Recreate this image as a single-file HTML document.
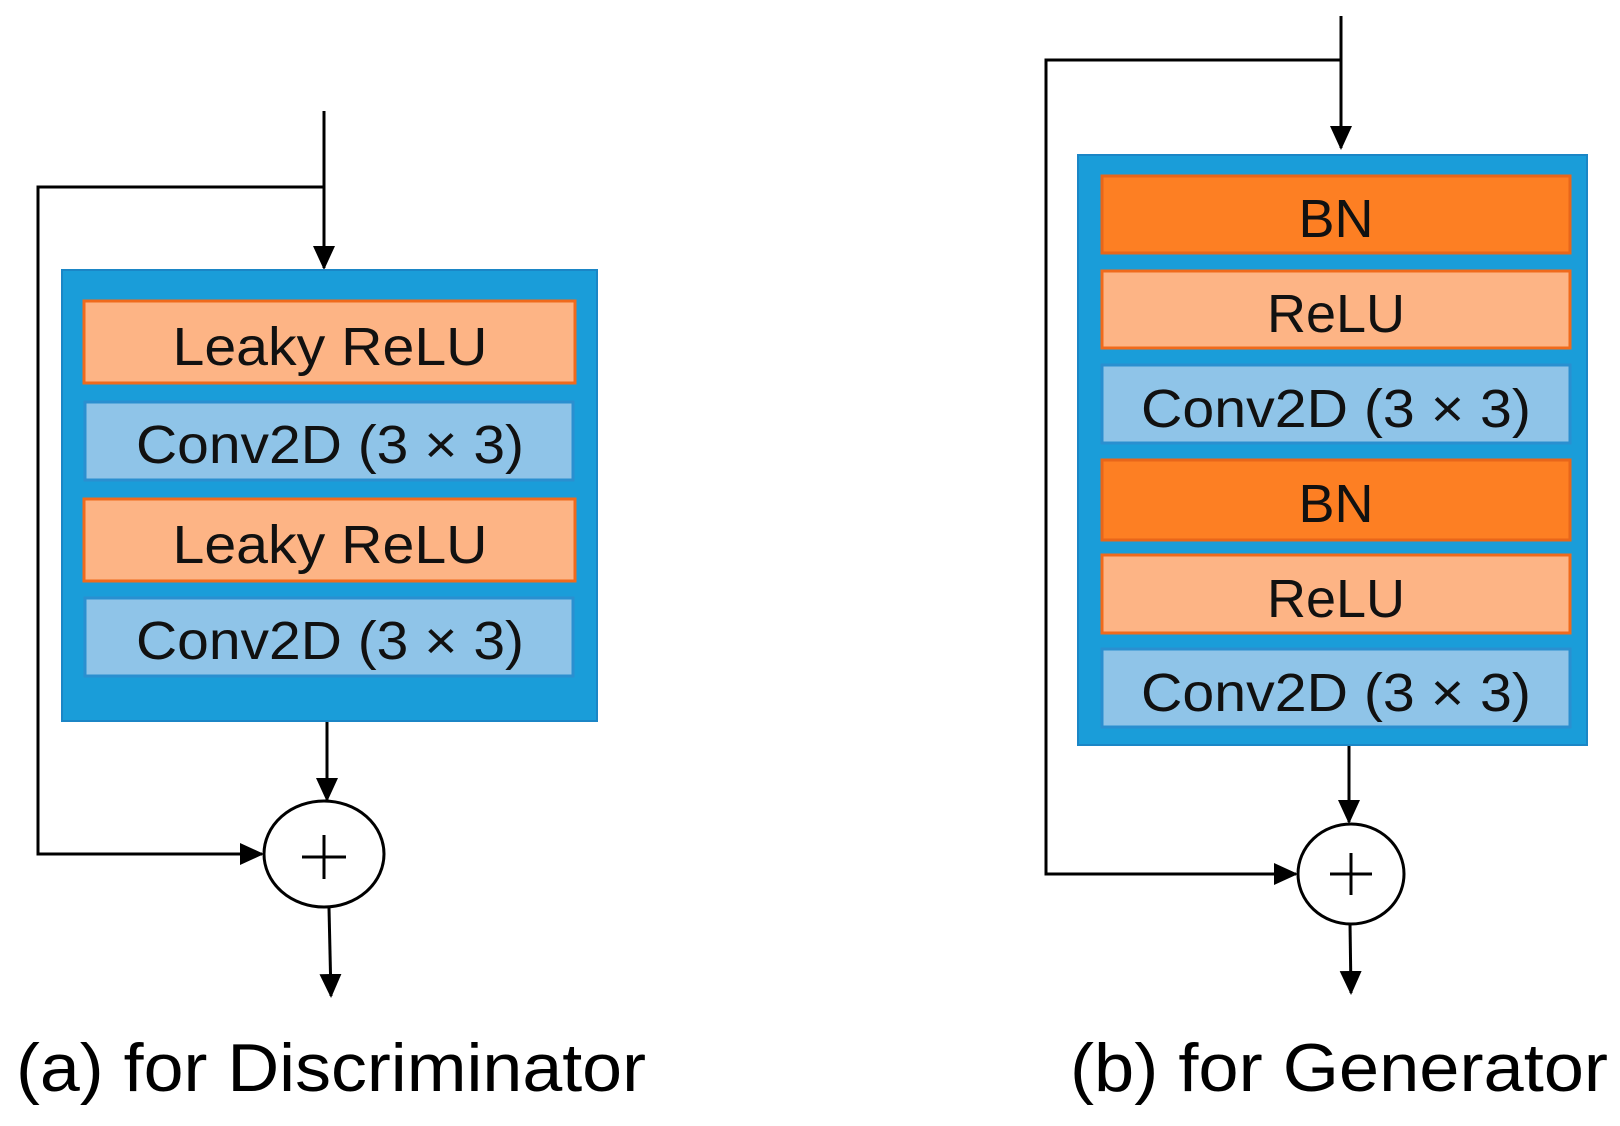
<!DOCTYPE html>
<html><head><meta charset="utf-8"><style>html,body{margin:0;padding:0;background:#fff}svg{display:block}</style></head>
<body>
<svg width="1620" height="1126" viewBox="0 0 1620 1126" xmlns="http://www.w3.org/2000/svg" font-family="Liberation Sans, sans-serif">
<defs>
<marker id="ah" markerWidth="24" markerHeight="22" refX="22" refY="11" orient="auto" markerUnits="userSpaceOnUse" viewBox="0 0 24 22">
<path d="M0,0 L24,11 L0,22 z" fill="#000"/></marker>
</defs>
<g stroke="#000" stroke-width="3" fill="none">
<polyline points="324,111 324,268" marker-end="url(#ah)"/>
<polyline points="324,187 38,187 38,854 262,854" marker-end="url(#ah)"/>
<line x1="327" y1="721" x2="327" y2="800" marker-end="url(#ah)"/>
<line x1="329" y1="908" x2="331" y2="996" marker-end="url(#ah)"/>
<polyline points="1341,16 1341,148" marker-end="url(#ah)"/>
<polyline points="1341,60 1046,60 1046,874 1296,874" marker-end="url(#ah)"/>
<line x1="1349" y1="745" x2="1349" y2="822" marker-end="url(#ah)"/>
<line x1="1350" y1="923" x2="1351" y2="993" marker-end="url(#ah)"/>
</g>
<rect x="62" y="270" width="535" height="451" fill="#1a9dd9" stroke="#1b86c6" stroke-width="2"/>
<g font-size="54" text-anchor="middle" fill="#111">
<rect x="84" y="301" width="491" height="82" fill="#fdb485" stroke="#f06a1c" stroke-width="3"/>
<text x="330" y="365" textLength="315" lengthAdjust="spacingAndGlyphs">Leaky ReLU</text>
<rect x="85" y="402" width="488" height="78" fill="#8fc4e8" stroke="#2a8fd0" stroke-width="3"/>
<text x="330" y="463" textLength="388" lengthAdjust="spacingAndGlyphs">Conv2D (3 × 3)</text>
<rect x="84" y="499" width="491" height="82" fill="#fdb485" stroke="#f06a1c" stroke-width="3"/>
<text x="330" y="563" textLength="315" lengthAdjust="spacingAndGlyphs">Leaky ReLU</text>
<rect x="85" y="598" width="488" height="78" fill="#8fc4e8" stroke="#2a8fd0" stroke-width="3"/>
<text x="330" y="659" textLength="388" lengthAdjust="spacingAndGlyphs">Conv2D (3 × 3)</text>
</g>
<rect x="1078" y="155" width="509" height="590" fill="#1a9dd9" stroke="#1b86c6" stroke-width="2"/>
<g font-size="54" text-anchor="middle" fill="#111">
<rect x="1102" y="176" width="468" height="77" fill="#fd7f23" stroke="#e8661a" stroke-width="3"/>
<text x="1336" y="237">BN</text>
<rect x="1102" y="271" width="468" height="77" fill="#fdb485" stroke="#f06a1c" stroke-width="3"/>
<text x="1336" y="332">ReLU</text>
<rect x="1102" y="365" width="468" height="78" fill="#8fc4e8" stroke="#2a8fd0" stroke-width="3"/>
<text x="1336" y="427" textLength="390" lengthAdjust="spacingAndGlyphs">Conv2D (3 × 3)</text>
<rect x="1102" y="460" width="468" height="80" fill="#fd7f23" stroke="#e8661a" stroke-width="3"/>
<text x="1336" y="522">BN</text>
<rect x="1102" y="555" width="468" height="78" fill="#fdb485" stroke="#f06a1c" stroke-width="3"/>
<text x="1336" y="617">ReLU</text>
<rect x="1102" y="649" width="468" height="78" fill="#8fc4e8" stroke="#2a8fd0" stroke-width="3"/>
<text x="1336" y="711" textLength="390" lengthAdjust="spacingAndGlyphs">Conv2D (3 × 3)</text>
</g>
<g stroke="#000" stroke-width="3" fill="#fff">
<ellipse cx="324" cy="854" rx="60" ry="53"/>
<ellipse cx="1351" cy="874" rx="53" ry="50"/>
</g>
<g stroke="#000" stroke-width="3">
<line x1="302" y1="857" x2="346" y2="857"/><line x1="324" y1="835" x2="324" y2="879"/>
<line x1="1330" y1="874" x2="1372" y2="874"/><line x1="1351" y1="853" x2="1351" y2="895"/>
</g>
<g font-size="68" fill="#000">
<text x="16" y="1091" textLength="630" lengthAdjust="spacingAndGlyphs">(a) for Discriminator</text>
<text x="1070" y="1091" textLength="538" lengthAdjust="spacingAndGlyphs">(b) for Generator</text>
</g>
</svg>
</body></html>
